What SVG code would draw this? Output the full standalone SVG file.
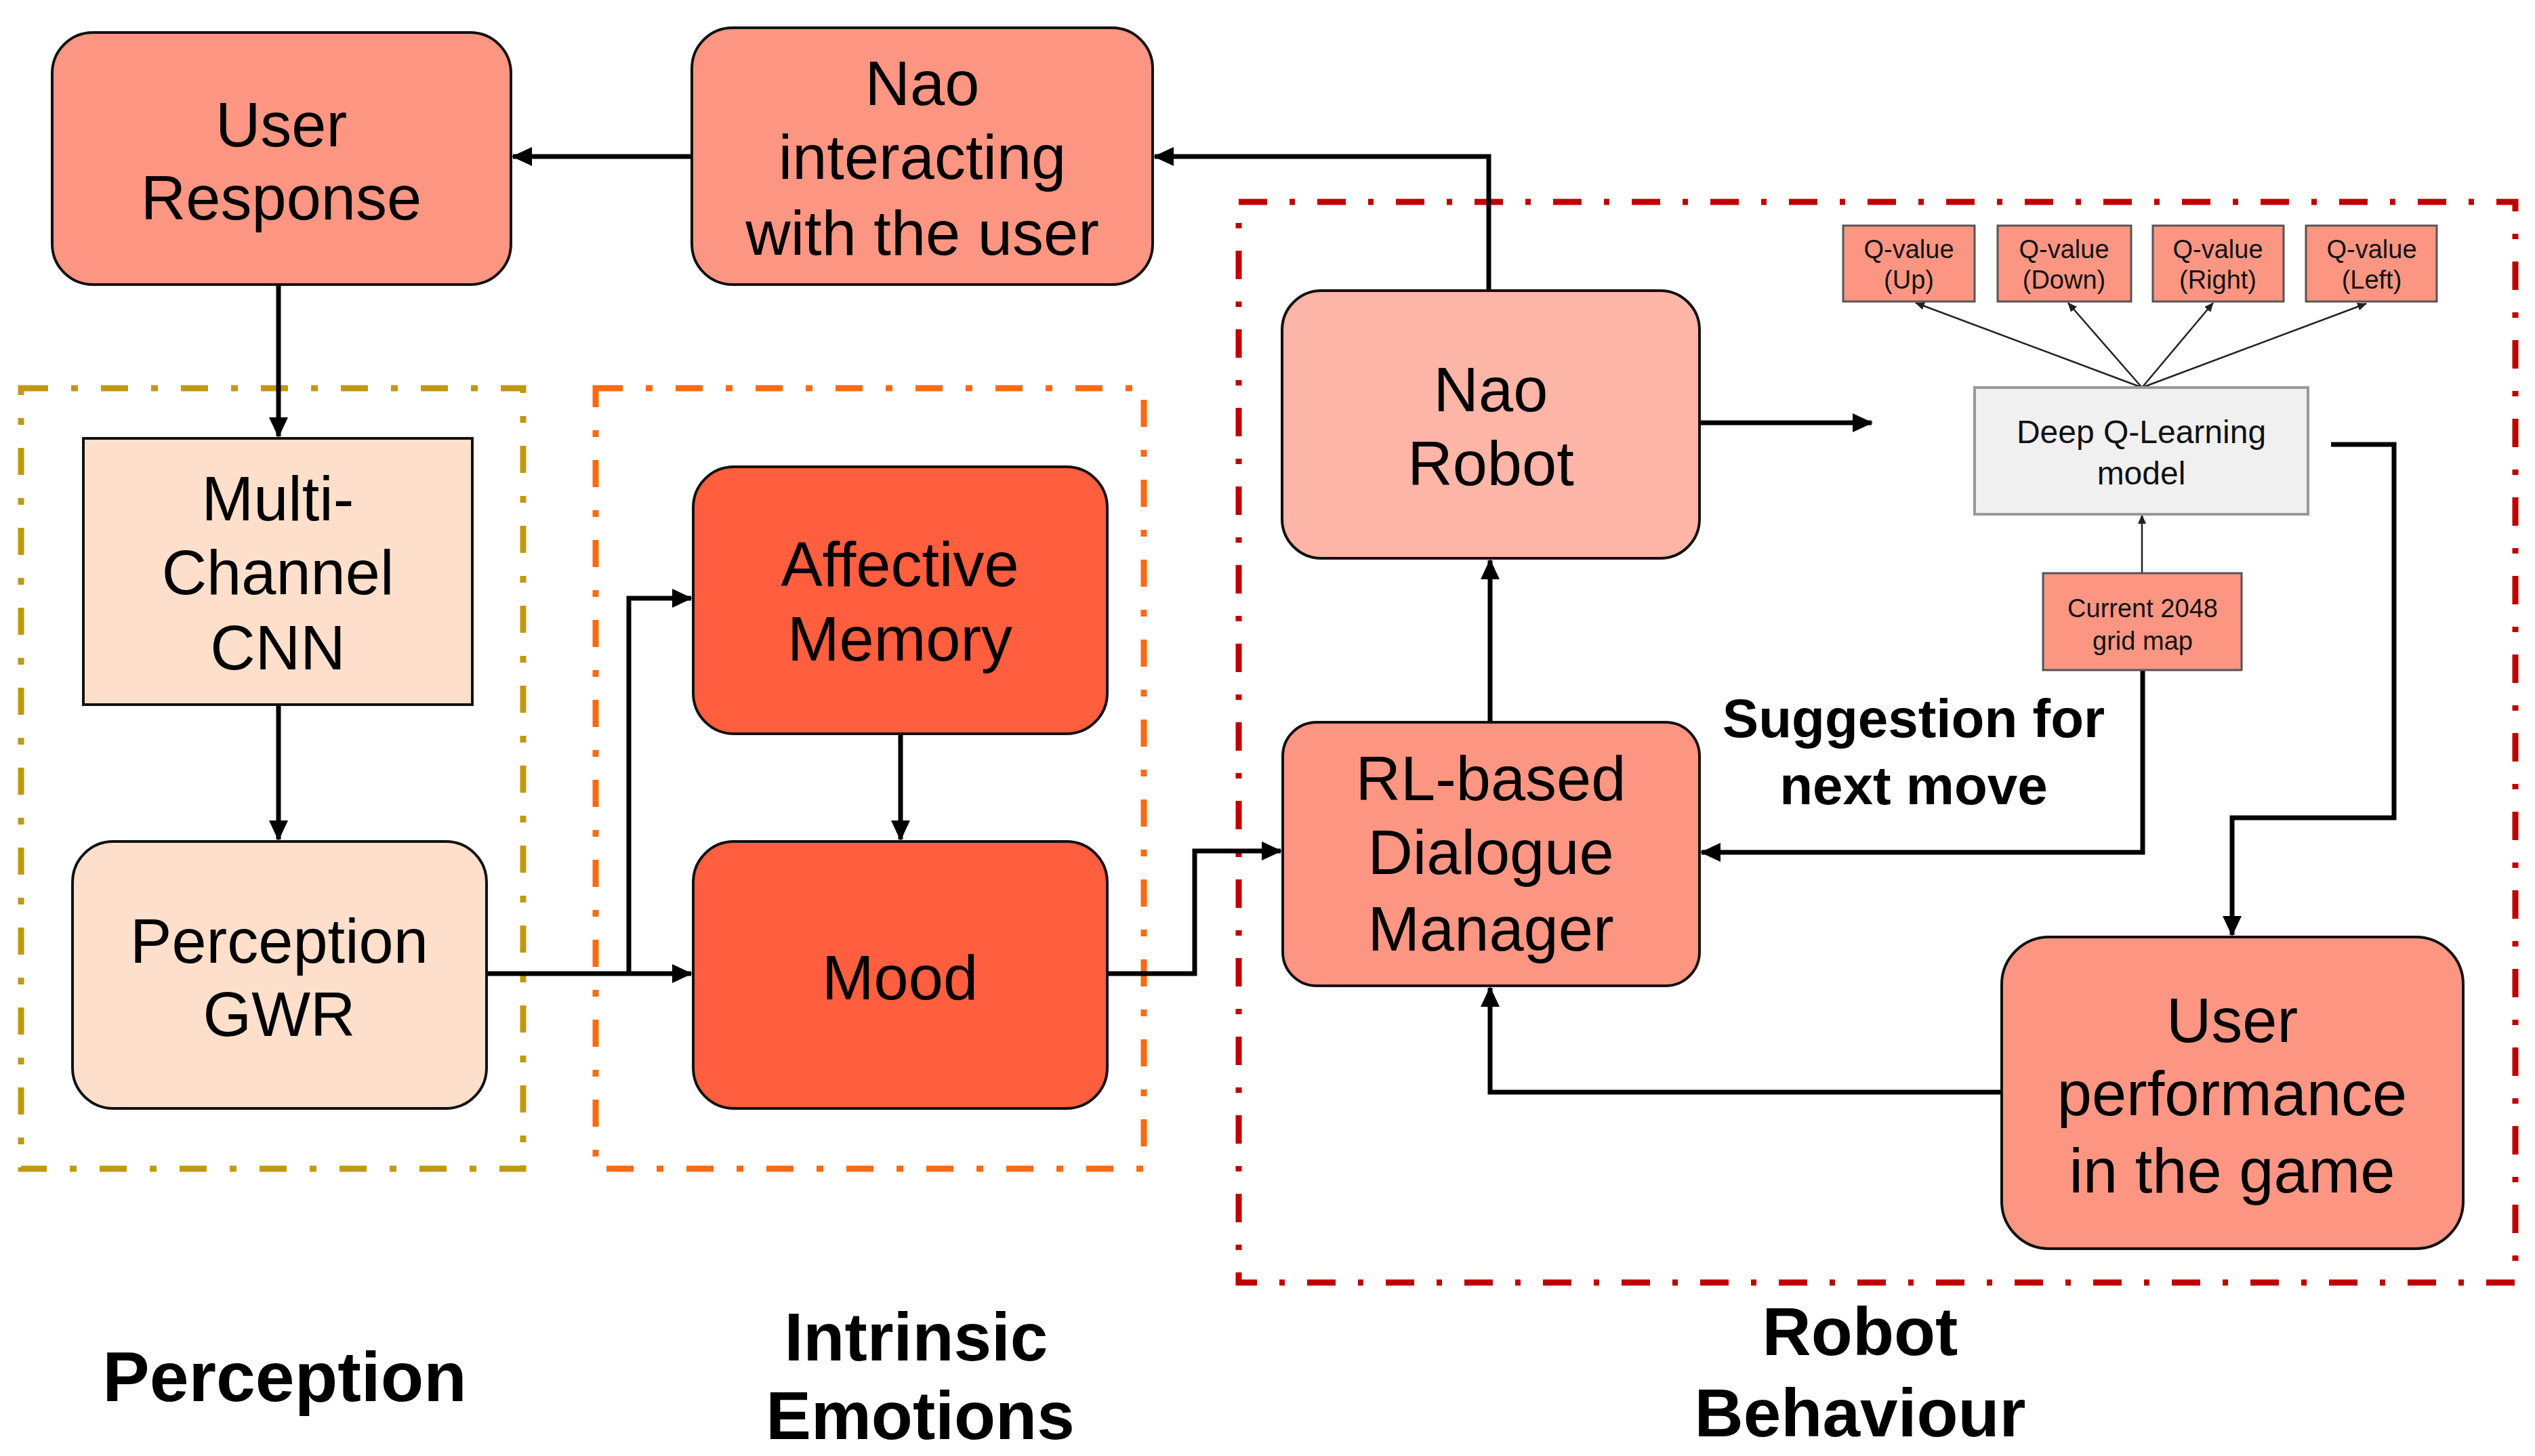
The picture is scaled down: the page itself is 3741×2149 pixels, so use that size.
<svg xmlns="http://www.w3.org/2000/svg" width="3741" height="2149" viewBox="0 0 3741 2149">
<style>
.t{font-family:"Liberation Sans",Arial,sans-serif;font-size:92px;fill:#000;text-anchor:middle}
.b{font-family:"Liberation Sans",Arial,sans-serif;font-weight:bold;fill:#000;text-anchor:middle}
.s{font-family:"Liberation Sans",Arial,sans-serif;font-size:38px;fill:#111;text-anchor:middle}
.m{font-family:"Liberation Sans",Arial,sans-serif;font-size:48px;fill:#111;text-anchor:middle}
.node{stroke:#111;stroke-width:4}
.sal{fill:#FC9683}
.nao{fill:#FDB5A7}
.emo{fill:#FF5E3F}
.pch{fill:#FDDFCB}
.small{fill:#FC9683;stroke:#555;stroke-width:3}
.dq{fill:#F0F0F0;stroke:#999;stroke-width:4}
.c{fill:none;stroke:#000;stroke-width:7}
.thin{fill:none;stroke:#222;stroke-width:2.5}
.grp{fill:none;stroke-width:9}
</style>
<defs>
<marker id="ah" markerUnits="userSpaceOnUse" markerWidth="30" markerHeight="28" refX="28" refY="14" orient="auto"><path d="M0,0 L30,14 L0,28 z" fill="#000"/></marker>
<marker id="as" markerUnits="userSpaceOnUse" markerWidth="14" markerHeight="12" refX="13" refY="6" orient="auto"><path d="M0,0 L14,6 L0,12 z" fill="#222"/></marker>
</defs>

<g id="groups">
<rect id="grp-perception" class="grp" x="31" y="573" width="741" height="1152" stroke="#BF9A10" stroke-dasharray="40 34 10 34"/>
<rect id="grp-emotions" class="grp" x="879" y="573" width="809" height="1152" stroke="#FF6A10" stroke-dasharray="40 34 10 34"/>
<rect id="grp-behaviour" class="grp" x="1828" y="298" width="1884" height="1595" stroke="#C00000" stroke-dasharray="42 33 8 33"/>
</g>

<g id="connectors">
<path class="c" d="M1021,231 L757,231" marker-end="url(#ah)"/>
<path class="c" d="M2197,429 L2197,231 L1704,231" marker-end="url(#ah)"/>
<path class="c" d="M411,420 L411,644" marker-end="url(#ah)"/>
<path class="c" d="M411,1040 L411,1239" marker-end="url(#ah)"/>
<path class="c" d="M718,1437 L1020,1437" marker-end="url(#ah)"/>
<path class="c" d="M928,1437 L928,883 L1020,883" marker-end="url(#ah)"/>
<path class="c" d="M1329,1083 L1329,1239" marker-end="url(#ah)"/>
<path class="c" d="M1634,1437 L1763,1437 L1763,1256 L1890,1256" marker-end="url(#ah)"/>
<path class="c" d="M2199,1066 L2199,827" marker-end="url(#ah)"/>
<path class="c" d="M2508,624 L2762,624" marker-end="url(#ah)"/>
<path class="c" d="M3440,656 L3533,656 L3533,1207 L3294,1207 L3294,1380" marker-end="url(#ah)"/>
<path class="c" d="M3162,990 L3162,1258 L2511,1258" marker-end="url(#ah)"/>
<path class="c" d="M2954,1612 L2199,1612 L2199,1458" marker-end="url(#ah)"/>
<path class="thin" d="M3161,846 L3161,760" marker-end="url(#as)"/>
<path class="thin" d="M3161,572 L2827,447" marker-end="url(#as)"/>
<path class="thin" d="M3161,572 L3052,447" marker-end="url(#as)"/>
<path class="thin" d="M3161,572 L3266,447" marker-end="url(#as)"/>
<path class="thin" d="M3161,572 L3492,448" marker-end="url(#as)"/>
</g>

<g id="user-response">
<rect class="node sal" x="77" y="48" width="677" height="372" rx="60"/>
<text class="t" x="415" y="216">User</text>
<text class="t" x="415" y="324">Response</text>
</g>

<g id="nao-interacting">
<rect class="node sal" x="1021" y="41" width="680" height="379" rx="60"/>
<text class="t" x="1361" y="155">Nao</text>
<text class="t" x="1361" y="264">interacting</text>
<text class="t" x="1361" y="376">with the user</text>
</g>

<g id="multi-channel-cnn">
<rect class="node pch" x="123" y="647" width="574" height="393"/>
<text class="t" x="410" y="768">Multi-</text>
<text class="t" x="410" y="877">Channel</text>
<text class="t" x="410" y="988">CNN</text>
</g>

<g id="perception-gwr">
<rect class="node pch" x="107" y="1242" width="611" height="394" rx="60"/>
<text class="t" x="412" y="1421">Perception</text>
<text class="t" x="412" y="1529">GWR</text>
</g>

<g id="affective-memory">
<rect class="node emo" x="1023" y="689" width="611" height="394" rx="60"/>
<text class="t" x="1328" y="865">Affective</text>
<text class="t" x="1328" y="975">Memory</text>
</g>

<g id="mood">
<rect class="node emo" x="1023" y="1242" width="611" height="394" rx="60"/>
<text class="t" x="1328" y="1475">Mood</text>
</g>

<g id="nao-robot">
<rect class="node nao" x="1892" y="429" width="616" height="395" rx="58"/>
<text class="t" x="2200" y="607">Nao</text>
<text class="t" x="2200" y="716">Robot</text>
</g>

<g id="rl-dialogue-manager">
<rect class="node sal" x="1893" y="1066" width="615" height="389" rx="50"/>
<text class="t" x="2200" y="1181">RL-based</text>
<text class="t" x="2200" y="1290">Dialogue</text>
<text class="t" x="2200" y="1403">Manager</text>
</g>

<g id="user-performance">
<rect class="node sal" x="2954" y="1383" width="681" height="460" rx="70"/>
<text class="t" x="3294" y="1538">User</text>
<text class="t" x="3294" y="1646">performance</text>
<text class="t" x="3294" y="1760">in the game</text>
</g>

<g id="deep-q">
<rect class="dq" x="2914" y="572" width="492" height="187"/>
<text class="m" x="3160" y="654">Deep Q-Learning</text>
<text class="m" x="3160" y="715">model</text>
</g>

<g id="current-grid">
<rect class="small" x="3015" y="846" width="293" height="143"/>
<text class="s" x="3162" y="911">Current 2048</text>
<text class="s" x="3162" y="959">grid map</text>
</g>

<g id="q-up">
<rect class="small" x="2720" y="333" width="194" height="112"/>
<text class="s" x="2817" y="381">Q-value</text>
<text class="s" x="2817" y="426">(Up)</text>
</g>
<g id="q-down">
<rect class="small" x="2948" y="333" width="197" height="112"/>
<text class="s" x="3046" y="381">Q-value</text>
<text class="s" x="3046" y="426">(Down)</text>
</g>
<g id="q-right">
<rect class="small" x="3177" y="333" width="193" height="112"/>
<text class="s" x="3273" y="381">Q-value</text>
<text class="s" x="3273" y="426">(Right)</text>
</g>
<g id="q-left">
<rect class="small" x="3403" y="333" width="193" height="112"/>
<text class="s" x="3500" y="381">Q-value</text>
<text class="s" x="3500" y="426">(Left)</text>
</g>

<g id="suggestion-label">
<text class="b" x="2824" y="1088" font-size="80">Suggestion for</text>
<text class="b" x="2824" y="1187" font-size="80">next move</text>
</g>

<g id="labels">
<text class="b" x="420" y="2068" font-size="104">Perception</text>
<text class="b" x="1352" y="2008" font-size="100">Intrinsic</text>
<text class="b" x="1358" y="2124" font-size="100">Emotions</text>
<text class="b" x="2745" y="2000" font-size="100">Robot</text>
<text class="b" x="2745" y="2120" font-size="100">Behaviour</text>
</g>
</svg>
